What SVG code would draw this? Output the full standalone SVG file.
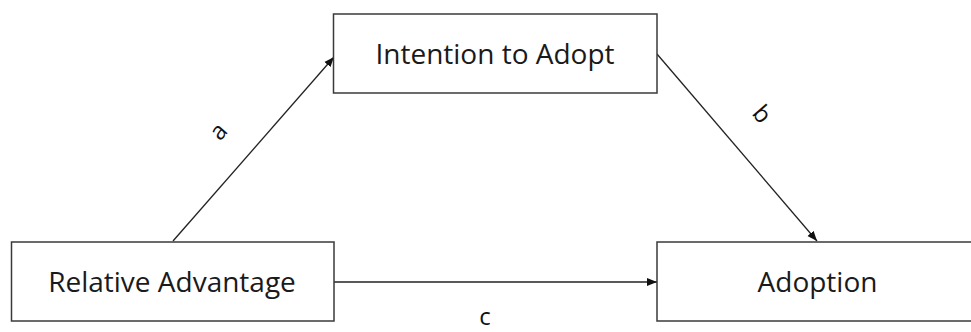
<svg xmlns="http://www.w3.org/2000/svg" width="971" height="332" viewBox="0 0 971 332">
<style>
.box{fill:#fff;stroke:#3a3a3a;stroke-width:1.5}
.t{font-family:"Open Sans","Liberation Sans",sans-serif;font-size:28px;fill:#1a1a1a;text-anchor:middle}
.l{font-family:"Open Sans","Liberation Sans",sans-serif;font-size:24px;fill:#111;text-anchor:middle}
.c{stroke:#222;stroke-width:1.3;fill:none;marker-end:url(#ah)}
</style>
<defs>
<marker id="ah" viewBox="0 0 10 10" refX="10" refY="5" markerWidth="10" markerHeight="10" markerUnits="userSpaceOnUse" orient="auto">
<path d="M0,1 L10,5 L0,9 Z" fill="#111"/>
</marker>
</defs>
<g id="connectors">
<line class="c" x1="173" y1="241" x2="334" y2="57"/>
<line class="c" x1="657" y1="54" x2="817" y2="241"/>
<line class="c" x1="334" y1="282" x2="657" y2="282"/>
</g>
<g id="node-intention">
<rect class="box" x="333.5" y="14" width="323.5" height="79"/>
<text class="t" x="495" y="64">Intention to Adopt</text>
</g>
<g id="node-relative">
<rect class="box" x="11.5" y="242" width="322.5" height="79"/>
<text class="t" x="172" y="292">Relative Advantage</text>
</g>
<g id="node-adoption">
<rect class="box" x="657" y="242" width="323" height="79"/>
<text class="t" x="817.5" y="292">Adoption</text>
</g>
<g id="labels">
<text class="l" transform="translate(219,132) rotate(-49)" y="7">a</text>
<text class="l" transform="translate(761,115) rotate(49)" y="7">b</text>
<text class="l" x="485" y="325">c</text>
</g>
</svg>
